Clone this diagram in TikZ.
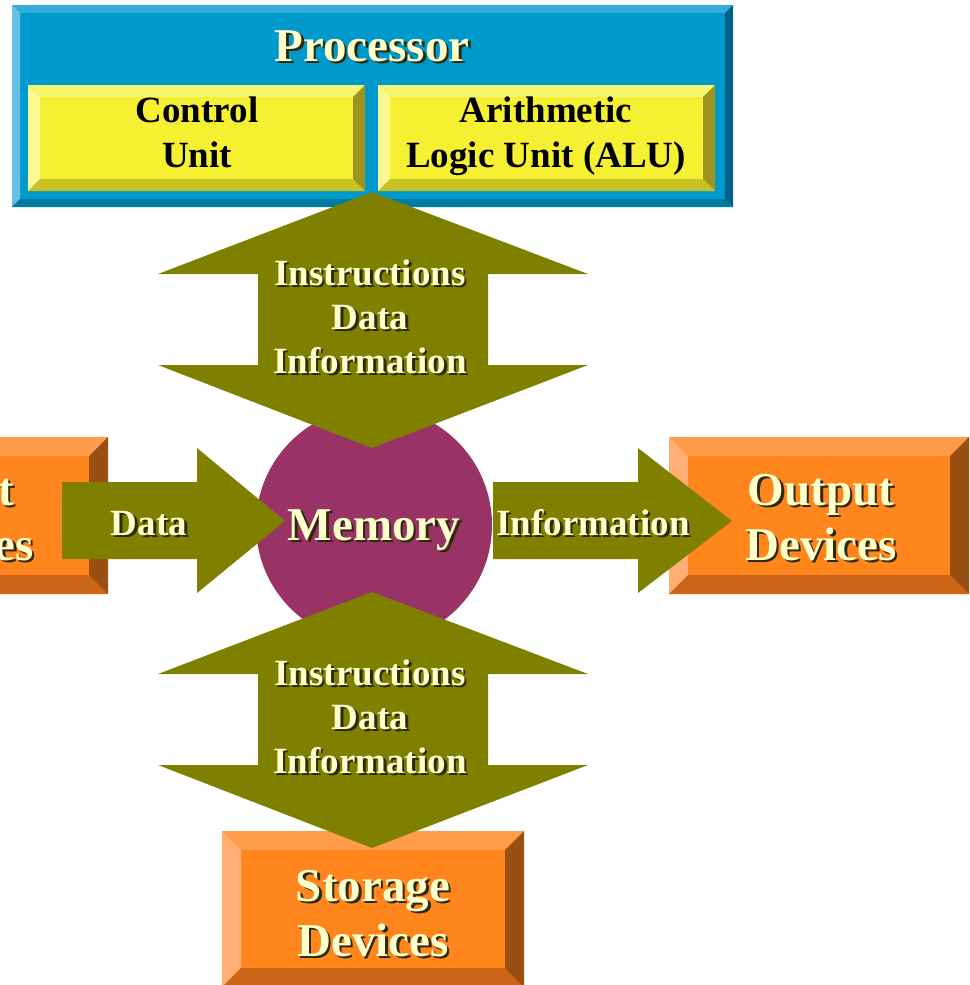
\documentclass[tikz,border=0pt]{standalone}
\usepackage{fontspec}
\setmainfont{Liberation Serif}
\definecolor{procFace}{HTML}{0099CC}
\definecolor{procTop}{HTML}{35ADDA}
\definecolor{procLeft}{HTML}{66C0E3}
\definecolor{procBot}{HTML}{007CA3}
\definecolor{procRight}{HTML}{006284}
\definecolor{yelFace}{HTML}{F5F032}
\definecolor{yelTop}{HTML}{F7F56E}
\definecolor{yelLeft}{HTML}{FAF88F}
\definecolor{yelBot}{HTML}{C9C226}
\definecolor{yelRight}{HTML}{9C9420}
\definecolor{oraFace}{HTML}{FF851D}
\definecolor{oraTop}{HTML}{FF9C4A}
\definecolor{oraLeft}{HTML}{FFAE74}
\definecolor{oraBot}{HTML}{CB6619}
\definecolor{oraRight}{HTML}{9A4F12}
\definecolor{arrowOlive}{HTML}{808000}
\definecolor{memColor}{HTML}{993366}
\definecolor{txtYellow}{HTML}{FFFFCC}
\definecolor{shadowCol}{HTML}{2E2A08}
\newcommand\bevelbox[6]{%
  \fill[#6Face] (#1,#2) rectangle (#3,#4);
  \fill[#6Top] (#1,#2) -- (#3,#2) -- ({#3-#5},{#2+#5}) -- ({#1+#5},{#2+#5}) -- cycle;
  \fill[#6Left] (#1,#2) -- ({#1+#5},{#2+#5}) -- ({#1+#5},{#4-#5}) -- (#1,#4) -- cycle;
  \fill[#6Bot] (#1,#4) -- ({#1+#5},{#4-#5}) -- ({#3-#5},{#4-#5}) -- (#3,#4) -- cycle;
  \fill[#6Right] (#3,#2) -- ({#3-#5},{#2+#5}) -- ({#3-#5},{#4-#5}) -- (#3,#4) -- cycle;
}
\newcommand\shadowed[1]{\makebox[0pt][l]{\hspace{2.5pt}\raisebox{-2.5pt}{\color{shadowCol}#1}}#1}
\tikzset{
  lbl/.style={anchor=base, inner sep=0pt, font=\fontsize{37}{44}\selectfont\bfseries, text=txtYellow},
  bigtext/.style={font=\fontsize{47}{55}\selectfont\bfseries},
  blockarrow/.style={fill=arrowOlive},
}
\newcommand\shtext[4][]{%
  \node[lbl,#1] (#2) at (#3) {\shadowed{#4}};
}
\begin{document}
\begin{tikzpicture}[x=1pt,y=-1pt]
\useasboundingbox (0,0) rectangle (969,985);
\clip (0,0) rectangle (969,985);
% Processor
\bevelbox{12}{5}{733}{207}{8}{proc}
\bevelbox{28}{85}{365}{191}{12}{yel}
\bevelbox{378}{85}{715}{191}{12}{yel}
% Device boxes
\bevelbox{-192}{437}{108}{594}{19}{ora}
\bevelbox{669}{437}{969}{594}{19}{ora}
\bevelbox{222}{831}{524}{987}{19}{ora}
% Memory
\node[circle, fill=memColor, minimum size=236pt, inner sep=0pt] (memory) at (374,525) {};
% coordinates
\coordinate (procTip) at (372,192);
\coordinate (memTopTip) at (372,448);
\coordinate (memBotTip) at (372,592);
\coordinate (storTip) at (372,848);
\coordinate (inStart) at (62,521);
\coordinate (memLeftTip) at (285,521);
\coordinate (outStart) at (493,521);
\coordinate (outTip) at (732,521);
% top double arrow
\fill[blockarrow] (procTip) -- ++(216,82) -- ++(-100,0) -- ++(0,91) -- ++(100,0) -- (memTopTip)
  -- ++(-214,-83) -- ++(100,0) -- ++(0,-91) -- ++(-100,0) -- cycle;
% bottom double arrow
\fill[blockarrow] (memBotTip) -- ++(216,82) -- ++(-100,0) -- ++(0,91) -- ++(100,0) -- (storTip)
  -- ++(-214,-83) -- ++(100,0) -- ++(0,-91) -- ++(-100,0) -- cycle;
% input arrow
\fill[blockarrow] (inStart) -- ++(0,-39) -- ++(135,0) -- ++(0,-34) -- (memLeftTip)
  -- ++(-88,72) -- ++(0,-34) -- ++(-135,0) -- cycle;
% output arrow
\fill[blockarrow] (outStart) -- ++(0,-39) -- ++(145,0) -- ++(0,-34) -- (outTip)
  -- ++(-94,72) -- ++(0,-34) -- ++(-145,0) -- cycle;
% Texts
\shtext[bigtext]{proc}{372,61}{Processor}
\node[lbl, text=black] (cu1) at (197,122) {Control};
\node[lbl, text=black] (cu2) at (197,167) {Unit};
\node[lbl, text=black] (alu1) at (546,122) {Arithmetic};
\node[lbl, text=black] (alu2) at (546,167) {Logic Unit (ALU)};
\shtext{ta1}{370,285}{Instructions}
\shtext{ta2}{370,329}{Data}
\shtext{ta3}{370,373}{Information}
\shtext{ba1}{370,685}{Instructions}
\shtext{ba2}{370,729}{Data}
\shtext{ba3}{370,773}{Information}
\shtext[bigtext]{mem}{374,540}{Memory}
\shtext{ldata}{149,535}{Data}
\shtext{rinfo}{593,535}{Information}
\shtext[bigtext]{in1}{-42,505}{Input}
\shtext[bigtext]{in2}{-42,560}{Devices}
\shtext[bigtext]{out1}{821,505}{Output}
\shtext[bigtext]{out2}{821,560}{Devices}
\shtext[bigtext]{st1}{373,901}{Storage}
\shtext[bigtext]{st2}{373,956}{Devices}
\end{tikzpicture}
\end{document}
